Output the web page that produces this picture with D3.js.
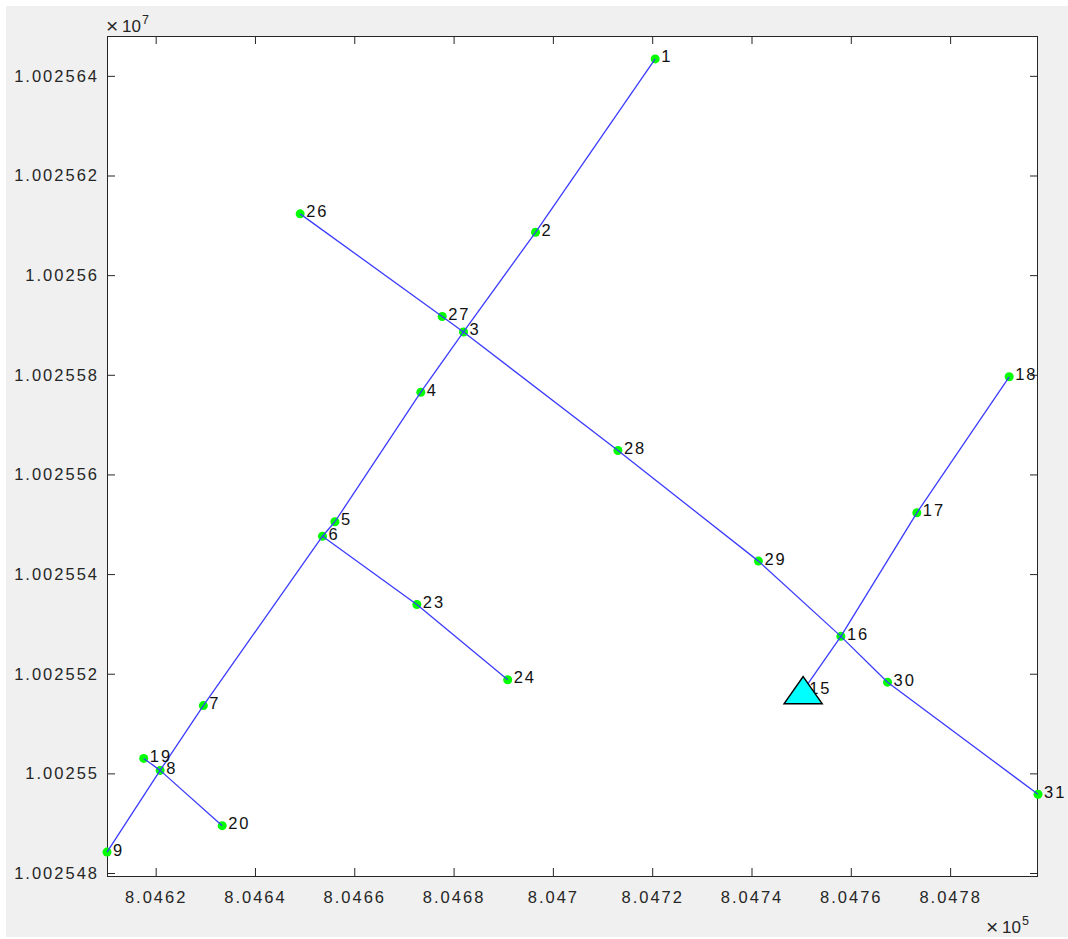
<!DOCTYPE html>
<html>
<head>
<meta charset="utf-8">
<script src="https://cdn.jsdelivr.net/npm/d3@7"></script>
<style>
  html, body { margin: 0; padding: 0; background: #ffffff; }
  svg { display: block; }
  text { font-family: "Liberation Sans", Arial, Helvetica, sans-serif; }
</style>
</head>
<body>
<svg id="chart" width="1068" height="939"></svg>
<script>
// ---- data ----
const nodeIds = [1, 2, 3, 4, 5, 6, 7, 8, 9, 15, 16, 17, 18, 19, 20, 23, 24, 26, 27, 28, 29, 30, 31];
const nodeX = [804720.6, 804696.5, 804682.0, 804673.4, 804656.1, 804653.6, 804629.6, 804620.9, 804610.2,
               804750.4, 804758.0, 804773.3, 804791.9, 804617.6, 804633.4, 804672.6, 804690.9,
               804649.1, 804677.7, 804713.1, 804741.4, 804767.4, 804797.7];
const nodeY = [10025643.4, 10025608.6, 10025588.6, 10025576.5, 10025550.5, 10025547.6, 10025513.6, 10025500.6, 10025484.2,
               10025516.6, 10025527.5, 10025552.3, 10025579.6, 10025503.0, 10025489.5, 10025533.9, 10025518.8,
               10025612.3, 10025591.7, 10025564.8, 10025542.6, 10025518.3, 10025495.8];
const edgeFrom = [1, 2, 3, 4, 5, 6, 7, 8, 26, 27, 3, 28, 29, 16, 30, 6, 23, 19, 8, 15, 16, 17];
const edgeTo   = [2, 3, 4, 5, 6, 7, 8, 9, 27, 3, 28, 29, 16, 30, 31, 23, 24, 8, 20, 16, 17, 18];
const substationId = 15;

const xLimits = [804610.2, 804797.7];
const yLimits = [10025479.4, 10025648.0];
const xTicks = [804620, 804640, 804660, 804680, 804700, 804720, 804740, 804760, 804780];
const xTickLabels = ["8.0462", "8.0464", "8.0466", "8.0468", "8.047", "8.0472", "8.0474", "8.0476", "8.0478"];
const yTicks = [10025480, 10025500, 10025520, 10025540, 10025560, 10025580, 10025600, 10025620, 10025640];
const yTickLabels = ["1.002548", "1.00255", "1.002552", "1.002554", "1.002556", "1.002558", "1.00256", "1.002562", "1.002564"];
const xExponent = "5";
const yExponent = "7";

// ---- layout ----
const W = 1068, H = 939;
const L = 107, T = 36, R = 1038, B = 876;
const svg = d3.select("#chart");

svg.append("rect").attr("x", 6).attr("y", 6).attr("width", W - 6).attr("height", 931).attr("fill", "#f0f0f0");
svg.append("rect").attr("x", L).attr("y", T).attr("width", R - L).attr("height", B - T).attr("fill", "#ffffff");

const x = d3.scaleLinear().domain(xLimits).range([L, R]);
const y = d3.scaleLinear().domain(yLimits).range([B, T]);

const tickColor = "#262626";
const fontSize = "16.5px";
const spacing = "2px";

function styleAxis(g) {
  g.select(".domain").remove();
  g.selectAll(".tick line").attr("stroke", tickColor).attr("stroke-width", 1);
  g.selectAll(".tick text").attr("fill", tickColor).style("font-size", fontSize).style("letter-spacing", spacing);
}

svg.append("g").attr("transform", `translate(0,${B})`)
  .call(d3.axisBottom(x).tickValues(xTicks).tickFormat((d, i) => xTickLabels[i]).tickSizeInner(-8).tickSizeOuter(0).tickPadding(15))
  .call(styleAxis);
svg.append("g").attr("transform", `translate(0,${T})`)
  .call(d3.axisTop(x).tickValues(xTicks).tickFormat("").tickSizeInner(-8).tickSizeOuter(0))
  .call(styleAxis);
svg.append("g").attr("transform", `translate(${L},0)`)
  .call(d3.axisLeft(y).tickValues(yTicks).tickFormat((d, i) => yTickLabels[i]).tickSizeInner(-8).tickSizeOuter(0).tickPadding(8))
  .call(styleAxis);
svg.append("g").attr("transform", `translate(${R},0)`)
  .call(d3.axisRight(y).tickValues(yTicks).tickFormat("").tickSizeInner(-8).tickSizeOuter(0))
  .call(styleAxis);

svg.append("rect").attr("x", L + 0.5).attr("y", T + 0.5).attr("width", R - L - 1).attr("height", B - T)
  .attr("fill", "none").attr("stroke", tickColor).attr("stroke-width", 1);

// exponent labels (×10^n)
function exponentLabel(x0, base, exp) {
  svg.append("text").attr("x", x0).attr("y", base + 1).attr("fill", tickColor).style("font-size", "21px").text("×");
  svg.append("text").attr("x", x0 + 16).attr("y", base).attr("fill", tickColor).style("font-size", "17px").text("10");
  svg.append("text").attr("x", x0 + 36).attr("y", base - 8).attr("fill", tickColor).style("font-size", "12.5px").text(exp);
}
exponentLabel(106, 32, yExponent);
exponentLabel(986, 933, xExponent);

// ---- marks ----
const nodes = nodeIds.map((id, i) => ({ id, x: nodeX[i], y: nodeY[i] }));
const byId = new Map(nodes.map(n => [n.id, n]));
const edges = edgeFrom.map((f, i) => ({ s: byId.get(f), t: byId.get(edgeTo[i]) }));

svg.append("g").selectAll("circle").data(nodes).join("circle")
  .attr("cx", d => x(d.x)).attr("cy", d => y(d.y)).attr("r", 4.5)
  .attr("fill", "#00ff00");

svg.append("g").selectAll("line").data(edges).join("line")
  .attr("x1", d => x(d.s.x)).attr("y1", d => y(d.s.y))
  .attr("x2", d => x(d.t.x)).attr("y2", d => y(d.t.y))
  .attr("stroke", "#3b3bff").attr("stroke-width", 1.3);

svg.append("g").selectAll("text").data(nodes).join("text")
  .attr("x", d => x(d.x) + 6).attr("y", d => y(d.y) + 3.5)
  .attr("fill", "#111111").style("font-size", "16.5px").style("letter-spacing", spacing)
  .text(d => d.id);

const sub = byId.get(substationId);
svg.append("path")
  .attr("d", d3.line()([[0, -14], [19, 13], [-19, 13]]) + "Z")
  .attr("transform", `translate(${x(sub.x)},${y(sub.y)})`)
  .attr("fill", "#00ffff").attr("stroke", "#000000").attr("stroke-width", 1.5).attr("stroke-linejoin", "miter");
</script>
</body>
</html>
